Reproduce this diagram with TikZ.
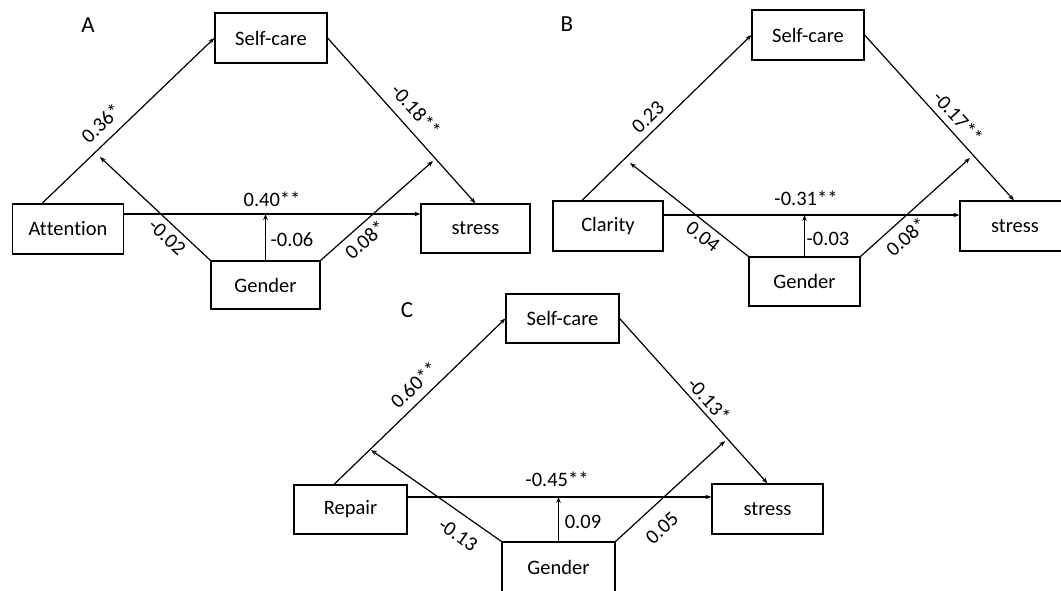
\documentclass[tikz,border=0pt]{standalone}
\usepackage{fontspec}
\setmainfont[Ligatures=NoCommon]{Carlito}
\usetikzlibrary{arrows.meta}
\begin{document}
\begin{tikzpicture}[x=1pt,y=-1pt,
  box/.style={draw,line width=1.2pt,minimum width=110pt,minimum height=50pt,inner sep=0pt,font=\fontsize{20.5}{24}\selectfont},
  lab/.style={inner sep=0pt,font=\fontsize{20.5}{24}\selectfont},
  panel/.style={inner sep=0pt,font=\fontsize{23}{27}\selectfont},
  conn/.style={line width=1.2pt,-{Stealth[length=6pt,width=4.5pt]}}]
\useasboundingbox (0,0) rectangle (1061,590);
\clip (0,0) rectangle (1061,590);
% ---------- Panel A ----------
\node[panel] (pA) at (88,25) {A};
\node[box,minimum width=112pt] (scA) at (271,38) {Self-care};
\node[box,minimum width=111pt] (atA) at (68,229) {At\kern0pt tention};
\node[box,minimum width=109pt,minimum height=49pt] (stA) at (475.5,228.5) {stress};
\node[box,minimum width=109pt,minimum height=48pt] (gA) at (265.5,285) {Gender};
\coordinate (tA1) at (100,157);
\coordinate (tA2) at (433,161);
\draw[conn] ([xshift=-26pt]atA.north) -- (scA.west);
\draw[conn] (scA.east) -- (stA.north);
\draw[conn,line width=1.6pt] ([yshift=15pt]atA.east) coordinate (hA) -- ([yshift=14.5pt]stA.west);
\draw[conn] (gA.north west) -- (tA1);
\draw[conn] (gA.north) -- (gA.north |- hA);
\draw[conn] (gA.north east) -- (tA2);
\node[lab,rotate=43.5] (lA1) at (101,123) {0.36*};
\node[lab,rotate=-48] (lA2) at (416,110) {-0.18**};
\node[lab] (lA3) at (272,199) {0.40**};
\node[lab,rotate=-43] (lA4) at (167,237) {-0.02};
\node[lab] (lA5) at (292,240) {-0.06};
\node[lab,rotate=41.5] (lA6) at (365,240) {0.08*};
% ---------- Panel B ----------
\node[panel] (pB) at (567,24) {B};
\node[box,minimum width=112pt] (scB) at (808,35) {Self-care};
\node[box] (clB) at (608,226) {Clarity};
\node[box] (stB) at (1015,226) {stress};
\node[box,minimum width=111pt,minimum height=49pt] (gB) at (804.5,281.5) {Gender};
\coordinate (tB1) at (630,163);
\coordinate (tB2) at (970,158);
\draw[conn] ([xshift=-26pt]clB.north) -- (scB.west);
\draw[conn] (scB.east) -- ([xshift=-1pt]stB.north);
\draw[conn] ([yshift=11pt]clB.east) coordinate (hB) -- ([yshift=11pt]stB.west);
\draw[conn] (gB.north west) -- (tB1);
\draw[conn] (gB.north) -- (gB.north |- hB);
\draw[conn] (gB.north east) -- (tB2);
\node[lab,rotate=43.8] (lB1) at (648,117) {0.23};
\node[lab,rotate=-48] (lB2) at (958,117) {-0.17**};
\node[lab] (lB3) at (806,198) {-0.31**};
\node[lab,rotate=-38] (lB4) at (703,237) {0.04};
\node[lab] (lB5) at (828,239) {-0.03};
\node[lab,rotate=42] (lB6) at (906,237) {0.08*};
% ---------- Panel C ----------
\node[panel] (pC) at (407,310) {C};
\node[box,minimum width=113pt,minimum height=49pt] (scC) at (562.5,318.5) {Self-care};
\node[box,minimum width=113pt,minimum height=49pt] (reC) at (350.5,509.5) {Repair};
\node[box,minimum width=111pt] (stC) at (767.5,509) {stress};
\node[box,minimum width=113pt] (gC) at (558.5,567) {Gender};
\coordinate (tC1) at (371,450);
\coordinate (tC2) at (725,441);
\draw[conn] ([xshift=-16.5pt]reC.north) -- (scC.west);
\draw[conn] (scC.east) -- (stC.north);
\draw[conn] ([yshift=12.5pt]reC.east) coordinate (hC) -- ([yshift=12pt]stC.west);
\draw[conn] (gC.north west) -- (tC1);
\draw[conn] (gC.north) -- (gC.north |- hC);
\draw[conn] (gC.north east) -- (tC2);
\node[lab,rotate=43.5] (lC1) at (414,385) {0.60**};
\node[lab,rotate=-48] (lC2) at (709,400) {-0.13*};
\node[lab] (lC3) at (557,479) {-0.45**};
\node[lab,rotate=-35] (lC4) at (458,535) {-0.13};
\node[lab] (lC5) at (583,522) {0.09};
\node[lab,rotate=42.5] (lC6) at (662,528) {0.05};
\end{tikzpicture}
\end{document}
